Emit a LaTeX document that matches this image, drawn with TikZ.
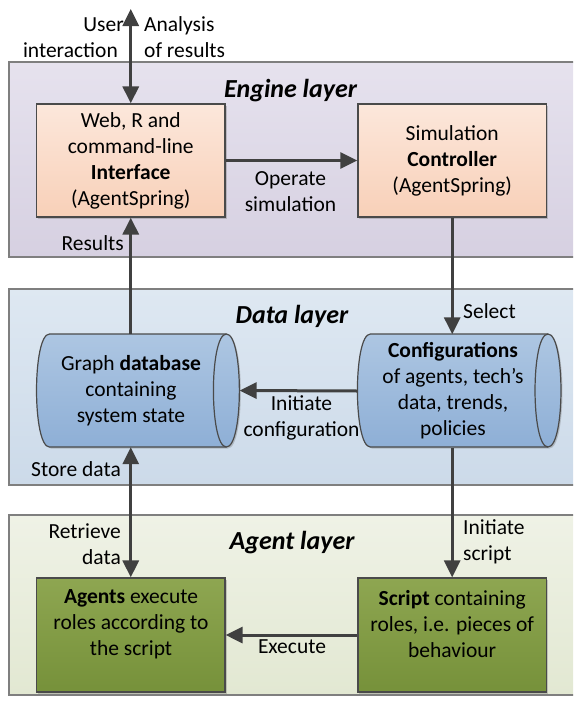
\documentclass[tikz,border=0pt]{standalone}
\usepackage{fontspec}
\setmainfont{Carlito}
\usetikzlibrary{arrows.meta,shadows}
\definecolor{eng1}{HTML}{E6E2EE}
\definecolor{eng2}{HTML}{D6D0E1}
\definecolor{dat1}{HTML}{DEE8F2}
\definecolor{dat2}{HTML}{CCDAE9}
\definecolor{agt1}{HTML}{EFF2E6}
\definecolor{agt2}{HTML}{E2E8D2}
\definecolor{or1}{HTML}{FCE7DB}
\definecolor{or2}{HTML}{F8D0B8}
\definecolor{cy1}{HTML}{ADC6E2}
\definecolor{cy2}{HTML}{8EAFD6}
\definecolor{gr1}{HTML}{8EA651}
\definecolor{gr2}{HTML}{76913A}
\definecolor{boxline}{HTML}{4A4A4A}
\definecolor{layline}{HTML}{7F7F7F}
\definecolor{arrcol}{HTML}{404040}
\begin{document}
\begin{tikzpicture}[x=1pt,y=-1pt,
  every node/.style={font=\fontsize{21.5}{26}\selectfont},
  layer/.style={draw=layline,line width=1.2pt},
  title/.style={font=\fontsize{26}{30}\selectfont\bfseries\itshape},
  box/.style={draw=boxline,line width=1.2pt,minimum width=188.5pt,minimum height=113pt,align=center,inner sep=2pt,
    drop shadow={shadow xshift=1.5pt,shadow yshift=-1.5pt,opacity=0.3,fill=black!60}},
  orangebox/.style={box,top color=or1,bottom color=or2},
  greenbox/.style={box,top color=gr1,bottom color=gr2,minimum height=114pt},
  cylnode/.style={minimum height=113pt,align=center,inner sep=0pt},
  cyl/.style={draw=boxline,line width=1.2pt,top color=cy1,bottom color=cy2,
    drop shadow={shadow xshift=1.5pt,shadow yshift=-1.5pt,opacity=0.3,fill=black!60}},
  cylline/.style={draw=boxline,line width=1.2pt},
  lbl/.style={inner sep=0pt},
  arr/.style={draw=arrcol,line width=3pt,-{Triangle[length=17pt,width=16pt]}},
  dblarr/.style={draw=arrcol,line width=3pt,{Triangle[length=17pt,width=16pt]}-{Triangle[length=17pt,width=16pt]}}
]
\useasboundingbox (0,0) rectangle (573,704);
\clip (0,0) rectangle (573,704);
\fill[white] (0,0) rectangle (573,704);

% layers
\path[layer,top color=eng1,bottom color=eng2] (9,62) rectangle (590,257);
\path[layer,top color=dat1,bottom color=dat2] (9,289) rectangle (590,485);
\path[layer,top color=agt1,bottom color=agt2] (9,515) rectangle (590,695);

\node[title] (tEng) at (290.5,91) {Engine layer};
\node[title] (tDat) at (292,316) {Data layer};
\node[title] (tAgt) at (292,543) {Agent layer};

% cylinder outlines
\path[cyl] (49.5,334) -- (226.4,334) .. controls (243.7,334) and (243.7,447) .. (226.4,447)
  -- (49.5,447) .. controls (32.2,447) and (32.2,334) .. (49.5,334) -- cycle;
\draw[cylline] (226.4,334) .. controls (209.1,334) and (209.1,447) .. (226.4,447);
\path[cyl] (370.4,334) -- (548,334) .. controls (565.3,334) and (565.3,447) .. (548,447)
  -- (370.4,447) .. controls (353.1,447) and (353.1,334) .. (370.4,334) -- cycle;
\draw[cylline] (548,334) .. controls (530.7,334) and (530.7,447) .. (548,447);

% nodes
\node[orangebox] (ifc) at (130.75,160.5) {Web, R and\\command-line\\\textbf{Interface}\\(AgentSpring)};
\node[orangebox] (ctl) at (452.2,160.5) {Simulation\\\textbf{Controller}\\(AgentSpring)};
\node[cylnode,minimum width=216.8pt] (db) at (131,390.5) {Graph \textbf{database}\\containing\\system state};
\node[cylnode,minimum width=191.2pt] (cfg) at (453,391) {\textbf{Configurations}\\of agents, tech’s\\data, trends,\\policies};
\node[greenbox] (ag) at (130.75,635) {};
\node[greenbox] (sc) at (452.2,635) {};
\node[align=center,inner sep=0pt] (agtxt) at (131,624) {\textbf{Agents} execute\\roles according to\\the script};
\node[align=center,inner sep=0pt] (sctxt) at (452.2,624) {\textbf{Script} containing\\roles, i.e. pieces of\\behaviour};

% connectors
\coordinate (top) at (130.75,9);
\draw[dblarr] (top) -- (ifc.north);
\draw[arr] (ifc.east) -- (ctl.west);
\draw[arr] (ctl.south) -- (cfg.north -| ctl.south);
\draw[arr] (ifc.south |- db.north) -- (ifc.south);
\draw[arr] (cfg.west) -- (db.east);
\draw[dblarr] (ag.north |- db.south) -- (ag.north);
\draw[arr] (cfg.south -| sc.north) -- (sc.north);
\draw[arr] (sc.west) -- (ag.east);

% labels
\node[lbl,align=right,anchor=east] (lUser) at (124,37.5) {User\\interaction\hspace*{6pt}};
\node[lbl,align=left,anchor=west] (lAna) at (144,37.5) {Analysis\\of results};
\node[lbl,align=center] (lOp) at (290.5,192) {Operate\\simulation};
\node[lbl,anchor=east] (lRes) at (124,243) {Results};
\node[lbl,anchor=west] (lSel) at (463,311) {Select};
\node[lbl,align=center] (lIni) at (301.5,417.5) {Initiate\\configuration};
\node[lbl,anchor=east] (lSto) at (121,469) {Store data};
\node[lbl,align=right,anchor=east] (lRet) at (121,544) {Retrieve\\data};
\node[lbl,align=left,anchor=west] (lIs) at (463,541.5) {Initiate\\script};
\node[lbl,align=center] (lExe) at (292,647) {Execute};
\end{tikzpicture}
\end{document}
